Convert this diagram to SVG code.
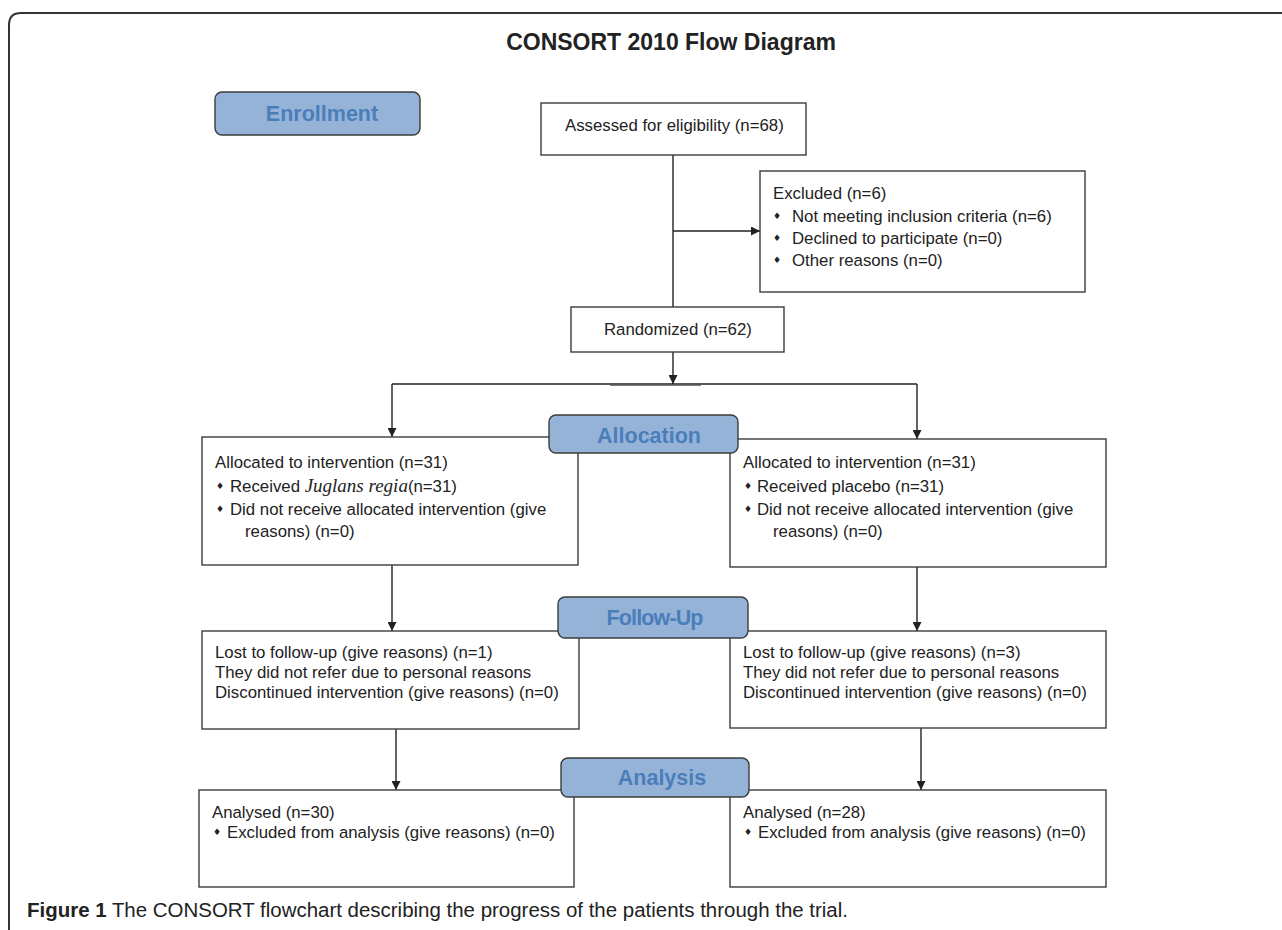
<svg xmlns="http://www.w3.org/2000/svg" width="1282" height="930" viewBox="0 0 1282 930">
<defs>
<marker id="arr" viewBox="0 0 10 10" refX="10" refY="5" markerWidth="9" markerHeight="9" markerUnits="userSpaceOnUse" orient="auto"><path d="M0,0 L10,5 L0,10 z" fill="#222"/></marker>
<style>
.box{fill:#fff;stroke:#3c3c3c;stroke-width:1.4}
.lab{fill:#95b3d7;stroke:#3c3c3c;stroke-width:1.4}
.t{font-family:"Liberation Sans",Arial,sans-serif;font-size:16.8px;fill:#222}
.it{font-family:"Liberation Serif","Times New Roman",serif;font-style:italic;font-size:19px}
.lt{font-family:"Liberation Sans",Arial,sans-serif;font-size:21.5px;font-weight:bold;fill:#4a7ebb;text-anchor:middle}
.b{font-family:"DejaVu Sans",sans-serif;font-size:9px;fill:#222}
.c{stroke:#222;stroke-width:1.4;fill:none}
.ca{marker-end:url(#arr)}
</style>
</defs>
<rect width="1282" height="930" fill="#fff"/>
<path d="M9,930 V25 Q9,13 21,13 H1282" fill="none" stroke="#333" stroke-width="2"/>
<text x="671" y="50" font-family="Liberation Sans, Arial, sans-serif" font-size="23" font-weight="bold" fill="#222" text-anchor="middle">CONSORT 2010 Flow Diagram</text>

<g id="connectors">
<line class="c" x1="673" y1="155" x2="673" y2="307"/>
<line class="c ca" x1="673" y1="231" x2="760" y2="231"/>
<line class="c ca" x1="673" y1="352" x2="673" y2="384"/>
<line class="c" x1="392" y1="384" x2="917" y2="384"/>
<line x1="610" y1="385" x2="701" y2="385" stroke="#555" stroke-width="1.5"/>
<line class="c ca" x1="392" y1="384" x2="392" y2="437"/>
<line class="c ca" x1="917" y1="384" x2="917" y2="439"/>
<line class="c ca" x1="392" y1="565" x2="392" y2="631"/>
<line class="c ca" x1="917" y1="567" x2="917" y2="631"/>
<line class="c ca" x1="396" y1="729" x2="396" y2="790"/>
<line class="c ca" x1="921" y1="728" x2="921" y2="790"/>
</g>

<g id="assessed">
<rect class="box" x="541" y="103" width="265" height="52"/>
<text class="t" x="565" y="131">Assessed for eligibility (n=68)</text>
</g>

<g id="excluded">
<rect class="box" x="760" y="171" width="325" height="121"/>
<text class="t" x="773" y="199">Excluded (n=6)</text>
<text class="b" x="773" y="219">♦</text>
<text class="t" x="792" y="222">Not meeting inclusion criteria (n=6)</text>
<text class="b" x="773" y="241">♦</text>
<text class="t" x="792" y="244">Declined to participate (n=0)</text>
<text class="b" x="773" y="263">♦</text>
<text class="t" x="792" y="266">Other reasons (n=0)</text>
</g>

<g id="randomized">
<rect class="box" x="571" y="307" width="213" height="45"/>
<text class="t" x="604" y="335">Randomized (n=62)</text>
</g>

<g id="alloc-left">
<rect class="box" x="202" y="437" width="376" height="128"/>
<text class="t" x="215" y="468">Allocated to intervention (n=31)</text>
<text class="b" x="216" y="489">♦</text>
<text class="t" x="230" y="492">Received <tspan class="it">Juglans regia</tspan>(n=31)</text>
<text class="b" x="216" y="512">♦</text>
<text class="t" x="230" y="515">Did not receive allocated intervention (give</text>
<text class="t" x="245" y="537">reasons) (n=0)</text>
</g>

<g id="alloc-right">
<rect class="box" x="730" y="439" width="376" height="128"/>
<text class="t" x="743" y="468">Allocated to intervention (n=31)</text>
<text class="b" x="744" y="489">♦</text>
<text class="t" x="757" y="492">Received placebo (n=31)</text>
<text class="b" x="744" y="512">♦</text>
<text class="t" x="757" y="515">Did not receive allocated intervention (give</text>
<text class="t" x="773" y="537">reasons) (n=0)</text>
</g>

<g id="lost-left">
<rect class="box" x="202" y="631" width="377" height="98"/>
<text class="t" x="215" y="658">Lost to follow-up (give reasons) (n=1)</text>
<text class="t" x="215" y="678">They did not refer due to personal reasons</text>
<text class="t" x="215" y="698">Discontinued intervention (give reasons) (n=0)</text>
</g>

<g id="lost-right">
<rect class="box" x="730" y="631" width="376" height="97"/>
<text class="t" x="743" y="658">Lost to follow-up (give reasons) (n=3)</text>
<text class="t" x="743" y="678">They did not refer due to personal reasons</text>
<text class="t" x="743" y="698">Discontinued intervention (give reasons) (n=0)</text>
</g>

<g id="analysed-left">
<rect class="box" x="199" y="790" width="375" height="97"/>
<text class="t" x="212" y="818">Analysed (n=30)</text>
<text class="b" x="213" y="835">♦</text>
<text class="t" x="227" y="838">Excluded from analysis (give reasons) (n=0)</text>
</g>

<g id="analysed-right">
<rect class="box" x="730" y="790" width="376" height="97"/>
<text class="t" x="743" y="818">Analysed (n=28)</text>
<text class="b" x="744" y="835">♦</text>
<text class="t" x="758" y="838">Excluded from analysis (give reasons) (n=0)</text>
</g>

<g id="enrollment">
<rect class="lab" x="215" y="92" width="205" height="43" rx="7"/>
<text class="lt" x="322" y="121">Enrollment</text>
</g>

<g id="allocation">
<rect class="lab" x="549" y="415" width="189" height="38" rx="7"/>
<text class="lt" x="649" y="443">Allocation</text>
</g>

<g id="followup">
<rect class="lab" x="558" y="597" width="190" height="41" rx="7"/>
<text class="lt" x="655" y="625" textLength="97" lengthAdjust="spacing">Follow-Up</text>
</g>

<g id="analysis">
<rect class="lab" x="561" y="758" width="188" height="39" rx="7"/>
<text class="lt" x="662" y="785">Analysis</text>
</g>

<text x="27" y="917" font-family="Liberation Sans, Arial, sans-serif" font-size="20" fill="#222" textLength="821" lengthAdjust="spacingAndGlyphs"><tspan font-weight="bold">Figure 1</tspan> The CONSORT flowchart describing the progress of the patients through the trial.</text>
</svg>
